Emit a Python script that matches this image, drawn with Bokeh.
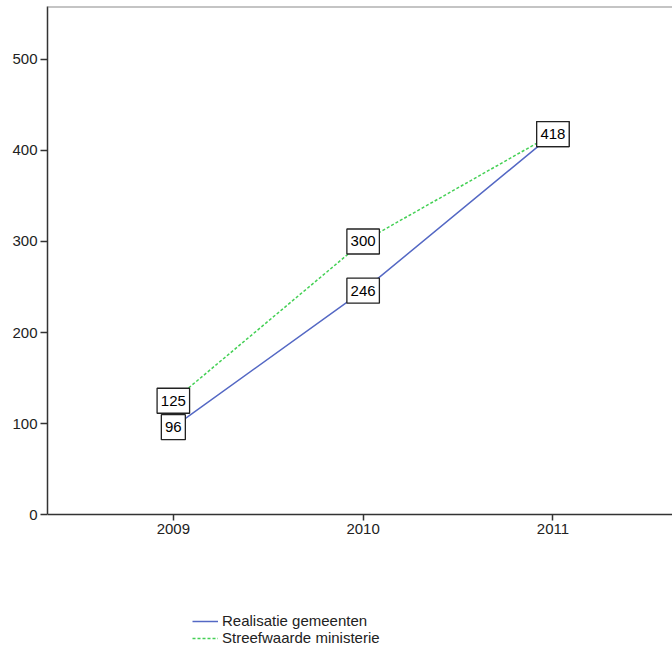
from bokeh.plotting import figure
from bokeh.models import ColumnDataSource, Legend, LegendItem, Range1d, FixedTicker, Span
from bokeh.embed import file_html
from bokeh.resources import INLINE

years = [2009, 2010, 2011]
realisatie = [96, 246, 418]
streefwaarde = [125, 300, 418]
y_ticks = [0, 100, 200, 300, 400, 500]
series_names = ["Realisatie gemeenten", "Streefwaarde ministerie"]

FONT = "Liberation Sans"
Y_TOP = 558.2
Y_BOTTOM = -149.4

p = figure(width=672, height=650, output_backend="svg", toolbar_location=None,
           x_range=Range1d(2008.337, 2011.63), y_range=Range1d(Y_BOTTOM, Y_TOP),
           min_border_left=47, min_border_right=0, min_border_top=6, min_border_bottom=0)
p.background_fill_color = "white"
p.border_fill_color = "white"
p.outline_line_color = None
p.xgrid.visible = False
p.ygrid.visible = False

for ax in (p.xaxis[0], p.yaxis[0]):
    ax.axis_line_color = "#333333"
    ax.axis_line_width = 1.5
    ax.major_tick_line_color = "#333333"
    ax.major_tick_line_width = 1.5
    ax.minor_tick_line_color = None
    ax.major_tick_in = 0
    ax.major_label_text_font = FONT
    ax.major_label_text_font_size = "15px"
    ax.major_label_text_color = "#222222"

p.yaxis[0].ticker = FixedTicker(ticks=y_ticks)
p.yaxis[0].bounds = (0, Y_TOP)
p.yaxis[0].major_tick_out = 7
p.yaxis[0].major_label_standoff = 3
p.xaxis[0].ticker = FixedTicker(ticks=years)
p.xaxis[0].fixed_location = 0
p.xaxis[0].major_tick_out = 6
p.xaxis[0].major_label_standoff = 3

p.add_layout(Span(location=Y_TOP, dimension="width", line_color="#8a8a8a", line_width=2))

src_r = ColumnDataSource(dict(x=years, y=realisatie, t=[str(v) for v in realisatie],
                              w=[7 + 8.5 * len(str(v)) for v in realisatie]))
src_s = ColumnDataSource(dict(x=years, y=streefwaarde, t=[str(v) for v in streefwaarde],
                              w=[7 + 8.5 * len(str(v)) for v in streefwaarde]))

l_r = p.line("x", "y", source=src_r, line_color="#5468c4", line_width=1.5)
l_s = p.line("x", "y", source=src_s, line_color="#44d055", line_width=1.5, line_dash="3 2")

for src in (src_s, src_r):
    p.rect("x", "y", width="w", height=25, width_units="screen", height_units="screen",
           source=src, fill_color="white", line_color="#222222", line_width=1.3)
    p.text("x", "y", text="t", source=src, text_align="center", text_baseline="middle",
           text_font_size="15px", text_color="black", text_font={"value": FONT})

legend = Legend(items=[LegendItem(label=series_names[0], renderers=[l_r]),
                       LegendItem(label=series_names[1], renderers=[l_s])],
                location=(145, 4), orientation="vertical",
                label_text_font=FONT, label_text_font_size="15px", label_text_color="#222222",
                glyph_width=26, glyph_height=14, spacing=0, padding=0, margin=0,
                label_standoff=4, label_height=14,
                border_line_color=None, background_fill_alpha=0)
p.add_layout(legend, "center")

open("out.html", "w").write(file_html(p, INLINE))
